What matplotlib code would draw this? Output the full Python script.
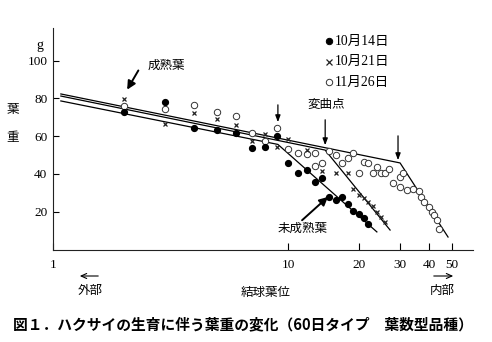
import matplotlib
matplotlib.use("Agg")
import matplotlib.pyplot as plt
from matplotlib.ticker import NullLocator, FixedLocator, FixedFormatter

SERIF = ['Liberation Serif', 'Noto Sans CJK JP']
GOTHIC = ['Noto Sans CJK JP', 'DejaVu Sans']

# 結球葉位ごとの葉重 (g)
pos_1014 = [2, 3, 4, 5, 6, 7, 8, 9, 10, 11, 12, 13, 14, 15, 16, 17, 18, 19, 20, 21, 22]
wt_1014 = [72.6, 77.9, 64.4, 63.0, 61.8, 53.5, 54.0, 60.3, 45.9, 40.3, 42.1, 35.9, 37.7,
           27.9, 26.2, 28.0, 24.2, 20.3, 18.8, 16.5, 13.5]

pos_1021 = [2, 3, 4, 5, 6, 7, 8, 9, 10, 12, 14, 16, 18, 19, 20, 21, 22, 23, 24, 25, 26]
wt_1021 = [79.5, 66.2, 72.1, 68.9, 65.9, 57.6, 61.0, 54.2, 58.6, 52.6, 41.5, 40.3, 40.6,
           32.0, 28.8, 27.1, 25.3, 23.0, 20.0, 17.0, 14.7]

pos_1126 = [2, 3, 4, 5, 6, 7, 8, 9, 10, 11, 12, 13, 13, 14, 15, 16, 17, 18, 19, 20, 21,
            22, 23, 24, 25, 26, 27, 28, 30, 30, 31, 32, 34, 36, 37, 38, 40, 41, 42, 43, 44]
wt_1126 = [76.1, 74.2, 76.5, 72.8, 70.7, 61.6, 57.2, 64.4, 53.0, 51.0, 50.5, 50.9, 44.2,
           45.6, 52.3, 50.0, 45.8, 48.3, 50.9, 40.6, 46.5, 45.6, 40.6, 43.5, 40.3, 40.3,
           42.4, 35.0, 38.5, 33.2, 40.3, 31.5, 31.9, 31.0, 27.9, 25.3, 22.6, 20.0, 18.3,
           15.6, 10.7]

# 折れ線 (変曲点で折れる)
line_1014_x = [1.08, 9.06, 23.9]
line_1014_y = [78.6, 55.6, 9.3]
line_1021_x = [1.08, 14.4, 27.2]
line_1021_y = [81.2, 52.6, 10.3]
line_1126_x = [1.08, 30.0, 48.0]
line_1126_y = [82.3, 45.8, 6.6]

xticks = [1, 10, 20, 30, 40, 50]
yticks = [20, 40, 60, 80, 100]

W, H = 492, 342


def fpos(x, y):
    return x / W, 1 - y / H


fig = plt.figure(figsize=(W / 100, H / 100), dpi=100)
ax = fig.add_axes([53 / W, 1 - 249.5 / H, 420 / W, (249.5 - 28) / H])

lw = 0.9
for lx, ly in [(line_1014_x, line_1014_y), (line_1021_x, line_1021_y), (line_1126_x, line_1126_y)]:
    ax.plot(lx, ly, color='black', lw=lw, zorder=2)

ax.plot(pos_1014, wt_1014, 'o', ms=4.2, color='black', zorder=4)
ax.plot(pos_1021, wt_1021, 'x', ms=3.5, mew=0.9, color='#222222', zorder=4)
ax.plot(pos_1126, wt_1126, 'o', ms=4.6, mfc='white', mec='#333333', mew=0.7, zorder=3)

ax.set_xscale('log')
ax.set_xlim(1, 61.3)
ax.set_ylim(0, 117.2)
ax.xaxis.set_major_locator(FixedLocator(xticks))
ax.xaxis.set_major_formatter(FixedFormatter([str(t) for t in xticks]))
ax.xaxis.set_minor_locator(NullLocator())
ax.set_yticks(yticks)

for s in ['top', 'right']:
    ax.spines[s].set_visible(False)
for s in ['left', 'bottom']:
    ax.spines[s].set_linewidth(0.8)
    ax.spines[s].set_color('#222222')

ax.tick_params(axis='x', direction='in', length=5, width=0.8, pad=7, labelsize=9.5)
ax.tick_params(axis='y', direction='in', length=4, width=0.8, pad=4, labelsize=9.5)
for lab in ax.get_xticklabels() + ax.get_yticklabels():
    lab.set_family(SERIF)

# 注記
ax.text(3.03, 97.6, '成熟葉', family=GOTHIC, fontsize=9, ha='center', va='center')
ax.annotate('', xy=(2.04, 83.3), xytext=(2.34, 96.0),
            arrowprops=dict(arrowstyle='-|>,head_length=0.5,head_width=0.25', lw=1.4, color='black'))
ax.text(11.5, 11.4, '未成熟葉', family=GOTHIC, fontsize=9, ha='center', va='center')
ax.annotate('', xy=(15.1, 28.8), xytext=(11.25, 14.5),
            arrowprops=dict(arrowstyle='-|>,head_length=0.5,head_width=0.25', lw=1.4, color='black'))
ax.text(14.5, 77.0, '変曲点', family=GOTHIC, fontsize=9, ha='center', va='center')
for xa, y0, y1 in [(9.06, 78.0, 65.9), (14.4, 70.1, 53.7), (29.4, 61.6, 45.8)]:
    ax.annotate('', xy=(xa, y1), xytext=(xa, y0),
                arrowprops=dict(arrowstyle='-|>,head_length=0.4,head_width=0.15', lw=0.9, color='black'))

# 凡例
legend_rows = [('o', 'black', 'black', '10月14日'),
               ('x', '#222222', '#222222', '10月21日'),
               ('o', 'white', '#333333', '11月26日')]
for i, (mk, fc, ec, lab) in enumerate(legend_rows):
    yy = 41 + i * 20.5
    mx, my = fpos(329, yy)
    ax.plot([mx], [my], marker=mk, ms=4.6, mfc=fc, mec=ec, mew=0.9 if mk == 'x' else 0.7,
            transform=fig.transFigure, clip_on=False, linestyle='none')
    tx, ty = fpos(335, yy)
    fig.text(tx, ty, lab, family=SERIF, fontsize=9.8, ha='left', va='center')

# 軸ラベル
fig.text(*fpos(40, 46), 'g', family=SERIF, fontsize=10, ha='center', va='center')
fig.text(*fpos(13, 110), '葉', family=GOTHIC, fontsize=9, ha='center', va='center')
fig.text(*fpos(13, 137), '重', family=GOTHIC, fontsize=9, ha='center', va='center')
arrow_style = dict(arrowstyle='->,head_length=0.4,head_width=0.18', lw=0.8, color='black')
ax.annotate('', xy=fpos(77, 276), xytext=fpos(101, 276), xycoords='figure fraction',
            textcoords='figure fraction', arrowprops=arrow_style)
ax.annotate('', xy=fpos(456, 276), xytext=fpos(431, 276), xycoords='figure fraction',
            textcoords='figure fraction', arrowprops=arrow_style)
fig.text(*fpos(90, 290), '外部', family=GOTHIC, fontsize=9, ha='center', va='center')
fig.text(*fpos(266, 292), '結球葉位', family=GOTHIC, fontsize=9, ha='center', va='center')
fig.text(*fpos(442, 290), '内部', family=GOTHIC, fontsize=9, ha='center', va='center')

fig.text(*fpos(13, 324), '図１．ハクサイの生育に伴う葉重の変化（60日タイプ　葉数型品種）',
         family=GOTHIC, fontsize=10.6, fontweight='bold', ha='left', va='center')

fig.savefig('out.png', dpi=100)
